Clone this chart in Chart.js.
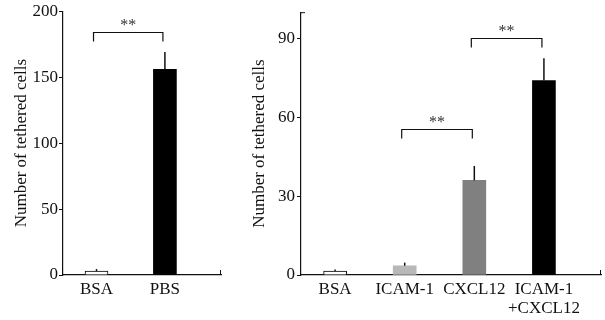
<!DOCTYPE html>
<html>
<head>
<meta charset="utf-8">
<script src="https://cdn.jsdelivr.net/npm/chart.js@4"></script>
<style>
  html, body { margin: 0; padding: 0; background: #fff; }
  .box { position: absolute; top: 0; height: 320px; }
  #left { left: 0; width: 232px; }
  #right { left: 232px; width: 373px; }
</style>
</head>
<body>
<div class="box" id="left"><canvas id="c1"></canvas></div>
<div class="box" id="right"><canvas id="c2"></canvas></div>
<script>
// left panel
const leftCategories = ['BSA', 'PBS'];
const leftMeans = [3, 156];
const leftErrors = [1.5, 13];
const leftColors = ['#ffffff', '#000000'];
const leftTicks = [0, 50, 100, 150, 200];
const leftPairs = [[0, 1]];
const leftPairHeights = [184];

// right panel
const rightCategories = ['BSA', 'ICAM-1', 'CXCL12', ['ICAM-1', '+CXCL12']];
const rightMeans = [1.5, 3.5, 36, 74];
const rightErrors = [0.6, 1.2, 5.5, 8.5];
const rightColors = ['#ffffff', '#b8b8b8', '#808080', '#000000'];
const rightTicks = [0, 30, 60, 90];
const rightPairs = [[1, 2], [2, 3]];
const rightPairHeights = [55.4, 90.3];

const FONT = 'Liberation Serif';
const INK = '#111';

// error bars, significance brackets and the little end ticks on the axes
const annotate = {
  id: 'annotate',
  afterDatasetsDraw(chart, args, opts) {
    const { ctx, scales: { x, y }, chartArea } = chart;
    ctx.save();
    ctx.strokeStyle = INK;
    ctx.lineWidth = 1.5;
    opts.means.forEach((m, i) => {
      const px = x.getPixelForValue(i);
      ctx.beginPath();
      ctx.moveTo(px, y.getPixelForValue(m));
      ctx.lineTo(px, y.getPixelForValue(m + opts.errors[i]));
      ctx.stroke();
    });

    ctx.lineWidth = 1.2;
    ctx.fillStyle = '#333';
    ctx.font = '16px "' + FONT + '"';
    ctx.textAlign = 'center';
    ctx.textBaseline = 'bottom';
    opts.pairs.forEach(([a, b], k) => {
      const x0 = x.getPixelForValue(a) - 3;
      const x1 = x.getPixelForValue(b) - 2;
      const py = Math.round(y.getPixelForValue(opts.heights[k])) + 0.5;
      ctx.beginPath();
      ctx.moveTo(x0, py + 9);
      ctx.lineTo(x0, py);
      ctx.lineTo(x1, py);
      ctx.lineTo(x1, py + 9);
      ctx.stroke();
      ctx.fillText('**', (x0 + x1) / 2, py + 1);
    });

    ctx.lineWidth = 1;
    ctx.beginPath();
    ctx.moveTo(chartArea.right - 0.5, chartArea.bottom);
    ctx.lineTo(chartArea.right - 0.5, chartArea.bottom - 5);
    if (opts.topTick) {
      ctx.moveTo(chartArea.left, chartArea.top + 0.5);
      ctx.lineTo(chartArea.left + 4, chartArea.top + 0.5);
    }
    ctx.stroke();
    ctx.restore();
  }
};

function makeChart(el, cfg) {
  return new Chart(el, {
    type: 'bar',
    data: {
      datasets: [{
        data: cfg.means.map((v, i) => ({ x: i, y: v })),
        backgroundColor: cfg.colors,
        borderColor: '#000',
        borderWidth: cfg.colors.map(c => c === '#ffffff' ? 1 : 0),
        borderSkipped: 'bottom',
        barThickness: 23
      }]
    },
    options: {
      responsive: true,
      maintainAspectRatio: false,
      animation: false,
      layout: { padding: { left: 0, top: 11, right: cfg.padRight, bottom: 0 } },
      plugins: {
        legend: { display: false },
        tooltip: { enabled: false },
        annotate: {
          means: cfg.means, errors: cfg.errors,
          pairs: cfg.pairs, heights: cfg.heights, topTick: cfg.topTick
        }
      },
      scales: {
        x: {
          type: 'linear',
          offset: false,
          min: -0.49,
          max: cfg.xMax,
          afterBuildTicks: s => { s.ticks = cfg.categories.map((_, i) => ({ value: i })); },
          afterFit: s => { s.height = 45; },
          grid: { display: false, drawTicks: false, offset: false },
          border: { display: true, color: INK, width: 1.2 },
          ticks: {
            autoSkip: false,
            maxRotation: 0,
            padding: 5,
            color: INK,
            font: { family: FONT, size: 17, lineHeight: 1.12 },
            callback: v => cfg.categories[v]
          }
        },
        y: {
          min: 0,
          max: cfg.yMax,
          afterBuildTicks: s => { s.ticks = cfg.ticks.map(v => ({ value: v })); },
          afterFit: s => { s.width = cfg.yWidth; },
          grid: { drawOnChartArea: false, drawTicks: true, tickLength: 4, color: INK },
          border: { display: true, color: INK, width: 1.2 },
          ticks: {
            padding: cfg.tickPad,
            color: INK,
            font: { family: FONT, size: 17 }
          },
          title: {
            display: true,
            text: 'Number of tethered cells',
            color: INK,
            font: { family: FONT, size: 17 },
            padding: { top: cfg.titlePad, bottom: 0 }
          }
        }
      }
    },
    plugins: [annotate]
  });
}

makeChart(document.getElementById('c1'), {
  categories: leftCategories, means: leftMeans, errors: leftErrors,
  colors: leftColors, ticks: leftTicks, pairs: leftPairs, heights: leftPairHeights,
  yMax: 200, xMax: 1.82, yWidth: 63, padRight: 11, tickPad: 1, titlePad: 11, topTick: false
});

makeChart(document.getElementById('c2'), {
  categories: rightCategories, means: rightMeans, errors: rightErrors,
  colors: rightColors, ticks: rightTicks, pairs: rightPairs, heights: rightPairHeights,
  yMax: 100, xMax: 3.82, yWidth: 69, padRight: 4, tickPad: 2, titlePad: 17, topTick: true
});
</script>
</body>
</html>
